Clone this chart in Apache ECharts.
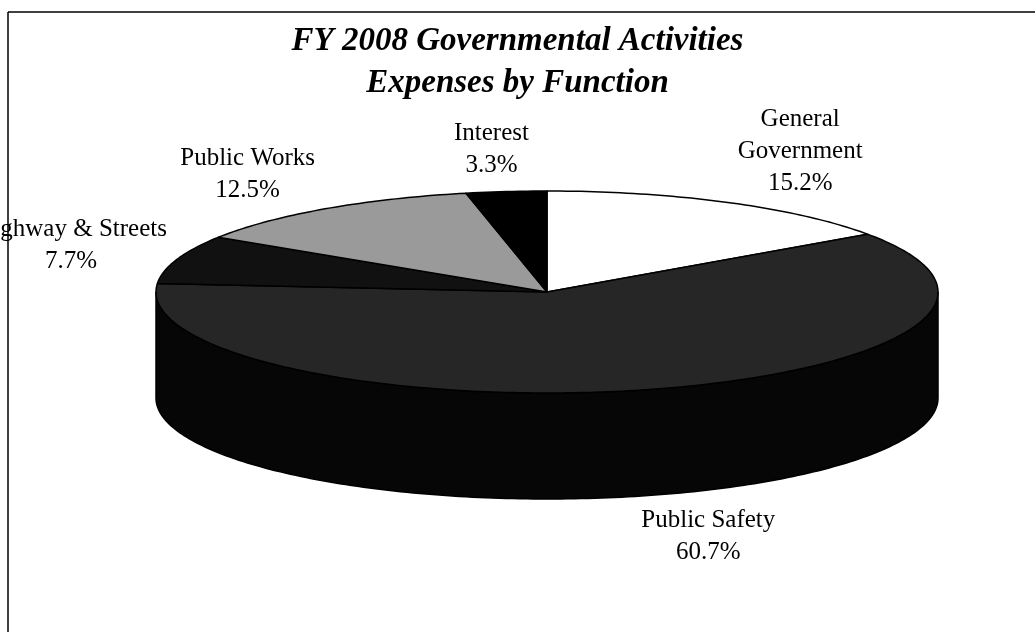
<!DOCTYPE html>
<html>
<head>
<meta charset="utf-8">
<script src="https://cdn.jsdelivr.net/npm/echarts@6/dist/echarts.min.js"></script>
<style>
  html, body { margin: 0; padding: 0; background: #fff; }
  #main { width: 1035px; height: 632px; }
</style>
</head>
<body>
<div id="main"></div>
<script>
// slices, clockwise from 12 o'clock
var categories = ['General\nGovernment', 'Public Safety', 'Highway & Streets', 'Public Works', 'Interest'];
var shares = [15.2, 60.7, 7.7, 12.5, 3.3];

// look of the slices (scanned b/w print)
var topColors = ['#ffffff', '#262626', '#111111', '#9a9a9a', '#000000'];
var sideColors = ['#d0d0d0', '#060606', '#050505', '#555555', '#000000'];

var total = shares.reduce(function (s, v) { return s + v; }, 0);
var seriesData = [];
var run = 0;
shares.forEach(function (v) { seriesData.push([v, run]); run += v; });

// pie geometry (3d tilted)
var cx = 547, cy = 292, rx = 391, ry = 101, depth = 106;
var labelFont = '"Liberation Serif", "Times New Roman", serif';
var labelSize = 25, labelLH = 32, gap = 10;

var measure = document.createElement('canvas').getContext('2d');
measure.font = labelSize + 'px ' + labelFont;

function pt(a, dy) {
    return [cx + rx * Math.sin(a), cy - ry * Math.cos(a) + dy];
}
function arc(a0, a1, dy) {
    var pts = [], n = Math.max(2, Math.ceil(Math.abs(a1 - a0) / (Math.PI / 180)));
    for (var k = 0; k <= n; k++) pts.push(pt(a0 + (a1 - a0) * k / n, dy));
    return pts;
}
function clamp(v) { return Math.max(-1, Math.min(1, v)); }

function renderSlice(params, api) {
    var i = params.dataIndex;
    var v = api.value(0), s = api.value(1);
    var a0 = s / total * Math.PI * 2, a1 = (s + v) / total * Math.PI * 2;
    var kids = [];

    // outer wall, only the front half shows
    var lo = Math.max(a0, Math.PI / 2), hi = Math.min(a1, Math.PI * 3 / 2);
    if (lo < hi) {
        kids.push({
            type: 'polygon', z2: 1,
            shape: { points: arc(lo, hi, 0).concat(arc(hi, lo, depth)) },
            style: { fill: sideColors[i], stroke: '#000', lineWidth: 1.5 }
        });
    }
    // top face
    kids.push({
        type: 'polygon', z2: 10,
        shape: { points: [[cx, cy]].concat(arc(a0, a1, 0)) },
        style: { fill: topColors[i], stroke: '#000', lineWidth: 1.5, lineJoin: 'round' }
    });

    // label outside the slice
    var txt = categories[i] + '\n' + v.toFixed(1) + '%';
    var lines = txt.split('\n');
    var w = 0;
    lines.forEach(function (l) { w = Math.max(w, measure.measureText(l).width); });
    var h = lines.length * labelLH;
    var mid = (a0 + a1) / 2;
    var front = Math.cos(mid) < 0;
    var an = pt(mid, front ? depth : 0);
    var sx = clamp(3 * Math.sin(mid)), sy = -Math.cos(mid);
    kids.push({
        type: 'text', z2: 20,
        x: an[0] + sx * (w / 2 + gap),
        y: an[1] + sy * (h / 2 + gap),
        style: {
            text: txt, fill: '#000', fontSize: labelSize, fontFamily: labelFont,
            lineHeight: labelLH, align: 'center', verticalAlign: 'middle'
        }
    });
    return { type: 'group', children: kids };
}

var chart = echarts.init(document.getElementById('main'));
chart.setOption({
    backgroundColor: '#fff',
    animation: false,
    title: {
        text: 'FY 2008 Governmental Activities\nExpenses by Function',
        left: 'center', top: 15,
        textStyle: {
            fontFamily: labelFont, fontStyle: 'italic', fontWeight: 'bold',
            fontSize: 33, lineHeight: 42, color: '#000'
        }
    },
    graphic: [
        { type: 'line', shape: { x1: 8, y1: 12, x2: 1035, y2: 12 }, style: { stroke: '#000', lineWidth: 1.5 } },
        { type: 'line', shape: { x1: 8, y1: 12, x2: 8, y2: 632 }, style: { stroke: '#000', lineWidth: 1.5 } }
    ],
    series: [{
        type: 'custom',
        coordinateSystem: 'none',
        renderItem: renderSlice,
        data: seriesData
    }]
});
</script>
</body>
</html>
